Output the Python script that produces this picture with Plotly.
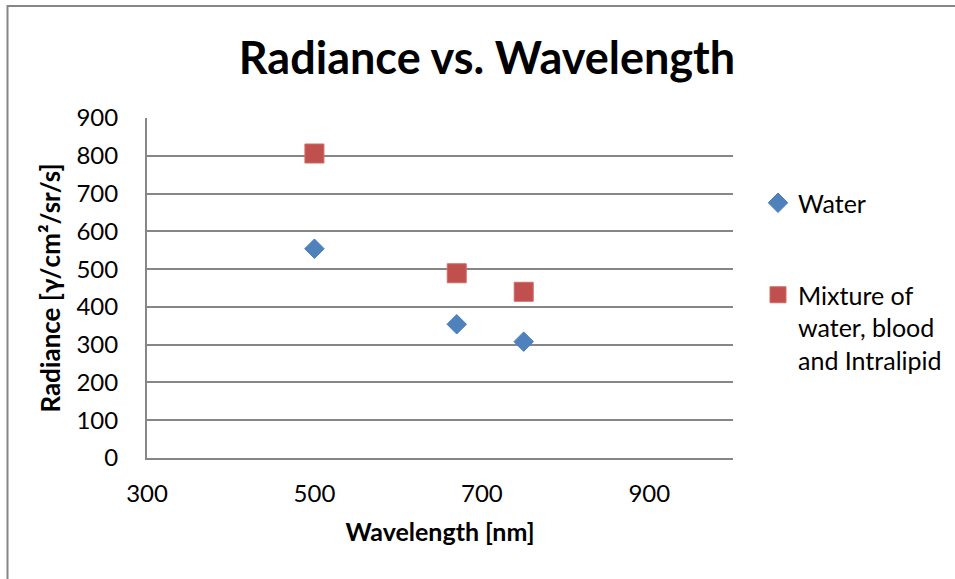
import plotly.graph_objects as go

# Data
wavelength = [500, 670, 750]
water = [554, 354, 308]
mixture = [806, 489, 440]
series_names = ["Water", "Mixture of<br>water, blood<br>and Intralipid"]
x_ticks = [300, 500, 700, 900]
y_ticks = [0, 100, 200, 300, 400, 500, 600, 700, 800, 900]

FONT = "Lato"
GRID = "#868686"

fig = go.Figure()
fig.add_trace(go.Scatter(
    x=wavelength, y=water, mode="markers", name=series_names[0],
    marker=dict(symbol="diamond", size=15, color="#4F81BD",
                line=dict(color="#4A7EBB", width=1)),
    legend="legend",
))
fig.add_trace(go.Scatter(
    x=wavelength, y=mixture, mode="markers", name=series_names[1],
    marker=dict(symbol="square", size=19, color="#C0504D",
                line=dict(color="#D06A67", width=1)),
    legend="legend2",
))

L, R, T, B = 147, 733, 118, 458
W, H = 955, 579

def px_x(px):
    return (px - L) / (R - L)

def px_y(py):
    return (B - py) / (B - T)

fig.update_layout(
    width=W, height=H,
    margin=dict(l=L, r=W - R, t=T, b=H - B, pad=0, autoexpand=False),
    paper_bgcolor="white", plot_bgcolor="white",
    font=dict(family=FONT, color="black", size=24),
    title=dict(text="<b>Radiance vs. Wavelength</b>", font=dict(family=FONT, size=45, color="black"),
               x=487 / W, xref="container", xanchor="center",
               y=1 - 58 / H, yref="container", yanchor="middle"),
    xaxis=dict(range=[300, 1000], tickvals=x_ticks, ticktext=[str(v) for v in x_ticks],
               showgrid=False, zeroline=False, showline=True, linecolor=GRID, linewidth=2,
               ticks="", ticklabelstandoff=13, tickfont=dict(size=24, family=FONT),
               title=dict(text="<b>Wavelength [nm]</b>", font=dict(size=25, family=FONT), standoff=18)),
    yaxis=dict(range=[0, 900], tickvals=y_ticks, ticktext=[str(v) for v in y_ticks],
               showgrid=True, gridcolor=GRID, gridwidth=2, zeroline=False,
               showline=True, linecolor=GRID, linewidth=2,
               ticks="", ticklabelstandoff=22, tickfont=dict(size=24, family=FONT),
               title=dict(text="<b>Radiance [γ/cm²/sr/s]</b>", font=dict(size=26, family=FONT), standoff=8)),
    legend=dict(x=px_x(758), xanchor="left", y=px_y(203), yanchor="middle",
                font=dict(size=25, family=FONT), itemwidth=30, bgcolor="rgba(0,0,0,0)"),
    legend2=dict(x=px_x(758), xanchor="left", y=px_y(272), yanchor="top", valign="top",
                 font=dict(size=25, family=FONT), itemwidth=30, bgcolor="rgba(0,0,0,0)"),
    showlegend=True,
    shapes=[dict(type="rect", xref="paper", yref="paper",
                 x0=px_x(7.5), x1=px_x(990), y0=px_y(6), y1=px_y(640),
                 line=dict(color=GRID, width=2), fillcolor="rgba(0,0,0,0)", layer="below")],
)

fig.write_html("out.html")
